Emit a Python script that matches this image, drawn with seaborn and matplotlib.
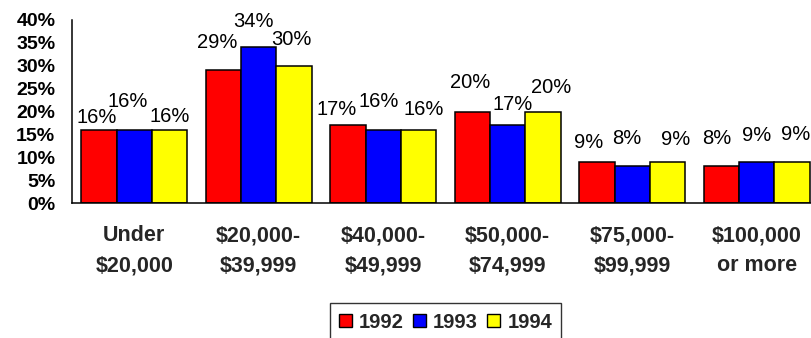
import matplotlib
matplotlib.use("Agg")
import matplotlib.pyplot as plt
import matplotlib.patches as mpatches
import seaborn as sns
import pandas as pd
import numpy as np

categories = ["Under\n$20,000", "$20,000-\n$39,999", "$40,000-\n$49,999",
              "$50,000-\n$74,999", "$75,000-\n$99,999", "$100,000\nor more"]
years = ["1992", "1993", "1994"]
values_1992 = [16, 29, 17, 20, 9, 8]
values_1993 = [16, 34, 16, 17, 8, 9]
values_1994 = [16, 30, 16, 20, 9, 9]
yticks = [0, 5, 10, 15, 20, 25, 30, 35, 40]

colors = ["#ff0000", "#0000ff", "#ffff00"]
# label offsets in pixels (dx, dy above bar top) per year, per category
label_dx = [[-2, -6, -11, -2, -8, -4.5],
            [-7, -5, -5, 4.5, -5, 0],
            [0, -3, 5, 8.5, 8, 3.5]]
label_dy = [[12, 28, 16, 29, 19, 28],
            [28, 26, 28, 21, 28, 26],
            [13, 26, 20, 24, 22, 27]]

sns.set_style("white")
plt.rcParams['font.family'] = ['Liberation Sans', 'DejaVu Sans']

df = pd.DataFrame({
    "category": categories * 3,
    "year": [y for y in years for _ in categories],
    "value": values_1992 + values_1993 + values_1994,
})

fig = plt.figure(figsize=(8.12, 3.38), dpi=100)
W, H = 812, 338
ax = fig.add_axes([72 / W, (H - 203) / H, (819 - 72) / W, (203 - 20) / H])

sns.barplot(data=df, x="category", y="value", hue="year", palette=colors,
            width=0.85, edgecolor="black", linewidth=1.1, ax=ax,
            legend=False, saturation=1)

ax.set_xlim(-0.5, 5.5)
ax.set_ylim(0, 40)
ax.set_xlabel("")
ax.set_ylabel("")

for spine in ["top", "right"]:
    ax.spines[spine].set_visible(False)
for spine in ["left", "bottom"]:
    ax.spines[spine].set_color("black")
    ax.spines[spine].set_linewidth(1.1)

ax.set_yticks(yticks)
ax.set_yticklabels([f"{v}%" for v in yticks], fontweight="bold", fontsize=14)
ax.tick_params(axis="y", direction="out", length=5, width=1.1, pad=7, colors="black")

ax.set_xticks(range(len(categories)))
ax.set_xticklabels(categories, fontweight="bold", fontsize=15.5, linespacing=1.55)
ax.tick_params(axis="x", which="major", length=0, pad=16)
ax.set_xticks(np.arange(-0.5, len(categories), 1), minor=True)
ax.tick_params(axis="x", which="minor", direction="inout", length=9.5, width=1.1, colors="black")

for i, cont in enumerate(ax.containers):
    for j, bar in enumerate(cont):
        x = bar.get_x() + bar.get_width() / 2
        h = bar.get_height()
        ax.annotate(f"{h:.0f}%", (x, h),
                    xytext=(label_dx[i][j] * 0.72, label_dy[i][j] * 0.72),
                    textcoords="offset points", ha="center", va="center",
                    fontsize=14.5, color="black", annotation_clip=False)

handles = [mpatches.Rectangle((0, 0), 1, 1, facecolor=c, edgecolor="black", linewidth=1.0)
           for c in colors]
leg = fig.legend(handles, years, loc="center", bbox_to_anchor=(445.5 / W, (H - 322) / H),
                 ncol=3, frameon=True, fancybox=False, handlelength=0.65, handleheight=0.6,
                 handletextpad=0.35, columnspacing=0.45, borderpad=0.45, borderaxespad=0,
                 prop={"weight": "bold", "size": 14.5})
leg.get_frame().set_edgecolor("black")
leg.get_frame().set_linewidth(1.0)

fig.savefig("out.png", dpi=100)
